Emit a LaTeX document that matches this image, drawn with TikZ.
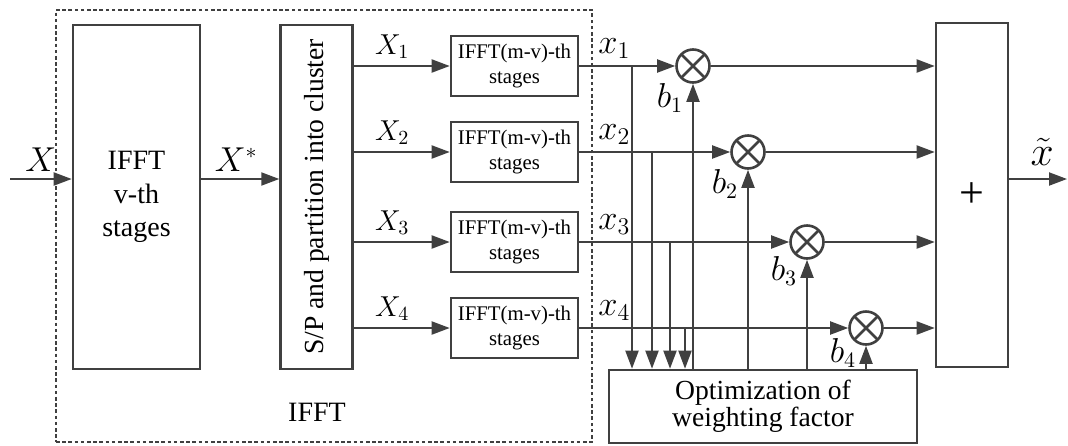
\documentclass[tikz,border=0pt]{standalone}
\usepackage{fontspec}
\setmainfont{Liberation Serif}
\usetikzlibrary{arrows.meta,positioning}
\definecolor{lnc}{RGB}{64,64,64}

\begin{document}
\begin{tikzpicture}[x=0.5pt, y=-0.5pt, >={Triangle[length=9pt,width=6.5pt]},
  box/.style={draw=lnc, line width=1.3pt, align=center, inner sep=0pt},
  bigbox/.style={box, minimum width=63.5pt, minimum height=172pt, font=\fontsize{14}{16.8}\selectfont},
  thinbox/.style={box, minimum width=36pt, minimum height=172pt},
  stagebox/.style={box, minimum width=63.5pt, minimum height=30pt, font=\fontsize{10.4}{12.5}\selectfont},
  mult/.style={circle, draw=lnc, line width=1.3pt, minimum size=16.5pt, inner sep=0pt,
    path picture={\draw[lnc, line width=1.3pt]
      (path picture bounding box.north west) -- (path picture bounding box.south east)
      (path picture bounding box.south west) -- (path picture bounding box.north east);}},
  arr/.style={->, draw=lnc, line width=1pt},
  group/.style={draw=lnc, line width=1pt, dash pattern=on 1.8pt off 1.3pt, inner sep=0pt},
  lbl/.style={font=\fontsize{16}{18}\selectfont},
  sublbl/.style={font=\fontsize{14}{15}\selectfont},
  outlbl/.style={font=\fontsize{17}{19}\selectfont}]
\useasboundingbox (0,0) rectangle (1068,445);
\node[group, minimum width=268pt, minimum height=216pt] (grp) at (324,226) {};
\node[font=\fontsize{14}{16}\selectfont] (grplbl) at (317,412) {IFFT};
\node[bigbox] (ifft) at (136.5,197) {IFFT\\v-th\\stages};
\node[thinbox, right=39pt of ifft] (sp) {};
\node[rotate=90, font=\fontsize{13.8}{16}\selectfont] at (sp) {S/P and partition into cluster};
\node[thinbox, font=\fontsize{22}{24}\selectfont] (plus) at (972,195) {+};
\node[box, minimum width=154pt, minimum height=36.5pt, font=\fontsize{13.8}{12}\selectfont] (opt) at (763,406.5) {Optimization of\\weighting factor};
\coordinate (in) at (10,179);
\coordinate (out) at (1067,179);
\draw[arr] (in) -- node[lbl, above]{$X$} (in -| ifft.west);
\draw[arr] (ifft.east |- in) -- node[lbl, above, xshift=-2pt]{$X^{*}$} (sp.west |- in);
\draw[arr] (plus.east |- out) -- node[font=\fontsize{21}{23}\selectfont, above=3pt, xshift=2pt]{$\tilde{x}$} (out);
\foreach \i/\y/\mx/\tx in {1/66/693/632, 2/152/748/652, 3/242/807/670, 4/328/866/685} {
  \node[stagebox] (s\i) at (514.5,\y) {IFFT(m-v)-th\\stages};
  \node[mult] (m\i) at (\mx,\y) {};
  \coordinate (t\i) at (\tx,\y);
}
\foreach \i/\by in {1/-7.25pt, 2/-7.25pt, 3/-5.75pt, 4/-3.5pt} {
  \draw[arr] (sp.east |- s\i.west) -- node[sublbl, above, pos=0.4]{$X_{\i}$} (s\i.west);
  \draw[arr] (s\i.east) -- (m\i.west) node[outlbl, pos=0, anchor=south, xshift=17.5pt]{$x_{\i}$};
  \draw[arr] (m\i.east) -- (plus.west |- m\i.east);
  \draw[arr] (t\i) -- (t\i |- opt.north);
  \draw[arr] (m\i |- opt.north) -- (m\i.south);
  \node[lbl] at ([shift={(-11.5pt,\by)}]m\i.south) {$b_{\i}$};
}
\end{tikzpicture}
\end{document}
